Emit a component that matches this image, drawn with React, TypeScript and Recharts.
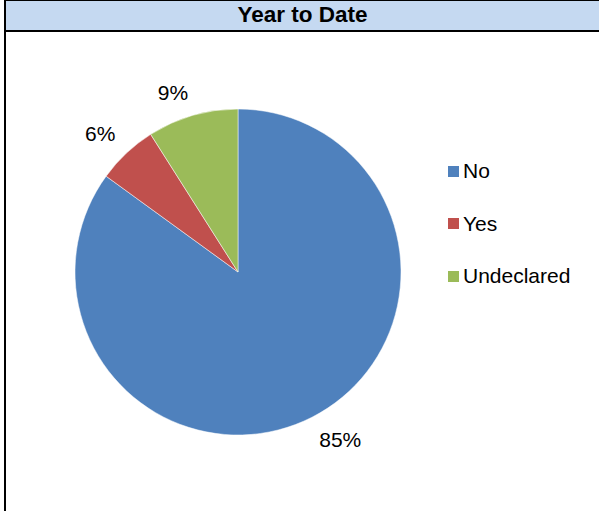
import React from 'react';
import { PieChart, Pie, Cell, Legend } from 'recharts';

const categories = ['No', 'Yes', 'Undeclared'];
const shares = [85, 6, 9];
const colors = ['#4F81BD', '#C0504D', '#9BBB59'];

const data = categories.map((name, i) => ({ name, value: shares[i] }));

const RADIAN = Math.PI / 180;
const FONT = 'Liberation Sans, Arial, sans-serif';
const LABEL_SIZE = 21;

// outside-end label: the box corner nearest the pie sits on the slice's mid ray
const renderLabel = (props: any) => {
  const { cx, cy, midAngle, outerRadius, value } = props;
  const text = `${value}%`;
  const ux = Math.cos(-midAngle * RADIAN);
  const uy = Math.sin(-midAngle * RADIAN);
  const r = outerRadius + 16;
  const w = LABEL_SIZE * (0.556 * (text.length - 1) + 0.889);
  const h = LABEL_SIZE * 0.716;
  const x = cx + r * ux + Math.sign(ux) * (w / 2);
  const y = cy + r * uy + Math.sign(uy) * (h / 2);
  return (
    <text
      x={x}
      y={y}
      fill="#000"
      fontSize={LABEL_SIZE}
      textAnchor="middle"
      dominantBaseline="central"
      fontFamily={FONT}
    >
      {text}
    </text>
  );
};

const renderLegend = () => (
  <div style={{ fontFamily: FONT, fontSize: 21, color: '#000' }}>
    {categories.map((name, i) => (
      <div key={name} style={{ display: 'flex', alignItems: 'center', height: 52.5 }}>
        <span style={{ width: 11, height: 11, background: colors[i], marginRight: 4 }} />
        <span>{name}</span>
      </div>
    ))}
  </div>
);

export default function App() {
  return (
    <div
      style={{
        position: 'absolute',
        left: 0,
        top: 0,
        width: 599,
        height: 511,
        background: '#fff',
        overflow: 'hidden',
      }}
    >
      <div
        style={{
          position: 'absolute',
          left: 4,
          top: 0,
          width: 595,
          height: 511,
          borderLeft: '2px solid #000',
          boxSizing: 'border-box',
        }}
      />
      <div
        style={{
          position: 'absolute',
          left: 4,
          top: 0,
          width: 595,
          height: 32,
          background: '#C5D9F1',
          borderTop: '1px solid #000',
          borderLeft: '2px solid #000',
          borderBottom: '2px solid #000',
          boxSizing: 'border-box',
          textAlign: 'center',
          fontFamily: FONT,
          fontWeight: 'bold',
          fontSize: 22.5,
          lineHeight: '28px',
          color: '#000',
        }}
      >
        Year to Date
      </div>
      <div style={{ position: 'absolute', left: 0, top: 0 }}>
        <PieChart width={599} height={511} margin={{ top: 0, right: 0, bottom: 0, left: 0 }}>
          <Pie
            data={data}
            dataKey="value"
            nameKey="name"
            cx={238}
            cy={272}
            outerRadius={163}
            startAngle={90}
            endAngle={-270}
            stroke="#fff"
            strokeWidth={0.5}
            label={renderLabel}
            labelLine={false}
            isAnimationActive={false}
          >
            {data.map((d, i) => (
              <Cell key={d.name} fill={colors[i]} />
            ))}
          </Pie>
          <Legend
            layout="vertical"
            align="right"
            verticalAlign="top"
            content={renderLegend}
            wrapperStyle={{ left: 448, top: 145, width: 150 }}
          />
        </PieChart>
      </div>
    </div>
  );
}
